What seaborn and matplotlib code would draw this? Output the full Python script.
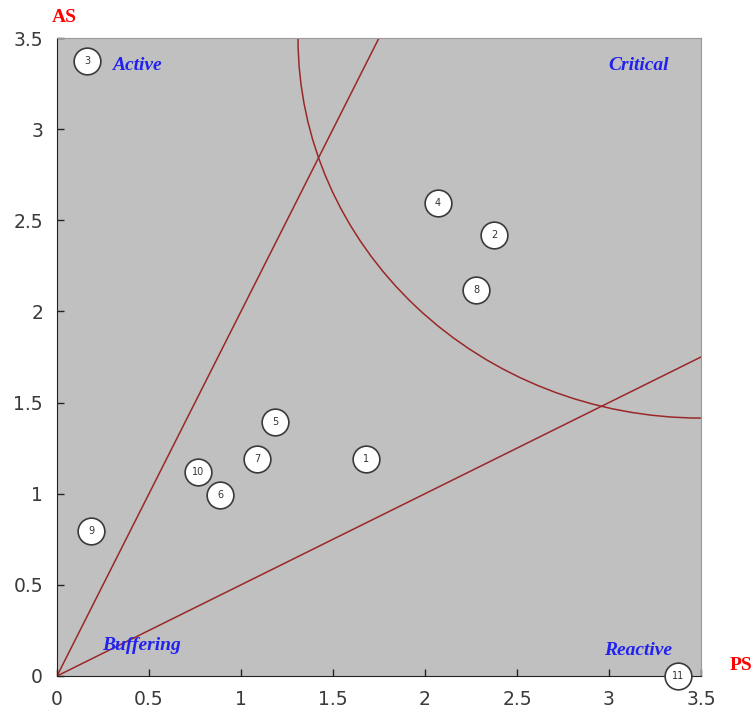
import numpy as np
import pandas as pd
import matplotlib
matplotlib.use("Agg")
import matplotlib.pyplot as plt
import seaborn as sns
from matplotlib.patches import Ellipse

# Data
labels = ["1", "2", "3", "4", "5", "6", "7", "8", "9", "10", "11"]
ps_vals = [1.68, 2.375, 0.163, 2.07, 1.185, 0.886, 1.087, 2.277, 0.185, 0.766, 3.375]
as_vals = [1.19, 2.42, 3.373, 2.595, 1.393, 0.993, 1.19, 2.117, 0.795, 1.119, 0.0]

zone_names = ["Active", "Critical", "Buffering", "Reactive"]
zone_x = [0.30, 3.16, 0.46, 3.16]
zone_y = [3.35, 3.35, 0.165, 0.14]
zone_ha = ["left", "center", "center", "center"]

line_slopes = [2.0, 0.5]
circle_center = (3.5, 3.5)
circle_rx = 2.19
circle_ry = 2.085

df = pd.DataFrame({"PS": ps_vals, "AS": as_vals, "label": labels})

fig = plt.figure(figsize=(7.53, 7.13), dpi=100)
ax = fig.add_axes([0.0757, 0.0519, 0.8552, 0.8948])
ax.set_facecolor("#c0c0c0")

ax.set_xlim(0, 3.5)
ax.set_ylim(0, 3.5)

line_col = "#9a2828"
for s in line_slopes:
    xs = np.array([0.0, 3.5])
    ax.plot(xs, s * xs, color=line_col, lw=1.1, zorder=2)

ell = Ellipse(circle_center, 2 * circle_rx, 2 * circle_ry, fill=False,
              edgecolor=line_col, lw=1.1, zorder=2)
ax.add_patch(ell)

sns.scatterplot(data=df, x="PS", y="AS", ax=ax, s=370, color="white",
                edgecolor="#3a3a3a", linewidth=1.2, zorder=5, clip_on=False,
                legend=False)
for _, r in df.iterrows():
    ax.text(r["PS"], r["AS"], r["label"], ha="center", va="center",
            fontsize=7, color="#333333", zorder=6, clip_on=False,
            family="DejaVu Sans")

for name, x, y, ha in zip(zone_names, zone_x, zone_y, zone_ha):
    ax.text(x, y, name, ha=ha, va="center", color="#2222ee", fontsize=14,
            fontweight="bold", fontstyle="italic", family="Liberation Serif",
            zorder=4)

ax.set_xticks([0, 0.5, 1, 1.5, 2, 2.5, 3, 3.5])
ax.set_yticks([0, 0.5, 1, 1.5, 2, 2.5, 3, 3.5])
ax.set_xticklabels(["0", "0.5", "1", "1.5", "2", "2.5", "3", "3.5"])
ax.set_yticklabels(["0", "0.5", "1", "1.5", "2", "2.5", "3", "3.5"])
ax.tick_params(direction="in", length=5, width=1, colors="#222222",
               labelcolor="#3a3a3a", labelsize=13.5, pad=10)
for lab in ax.get_xticklabels() + ax.get_yticklabels():
    lab.set_family("DejaVu Sans")

ax.spines["left"].set_color("#222222")
ax.spines["bottom"].set_color("#222222")
ax.spines["top"].set_color("#999999")
ax.spines["right"].set_color("#999999")
ax.set_xlabel("")
ax.set_ylabel("")

fig.text(64 / 753, 1 - 17 / 713, "AS", color="red", fontsize=14,
         fontweight="bold", family="Liberation Serif", ha="center", va="center")
fig.text(741 / 753, 1 - 665 / 713, "PS", color="red", fontsize=14,
         fontweight="bold", family="Liberation Serif", ha="center", va="center")

fig.savefig("out.png", dpi=100, facecolor="white")
